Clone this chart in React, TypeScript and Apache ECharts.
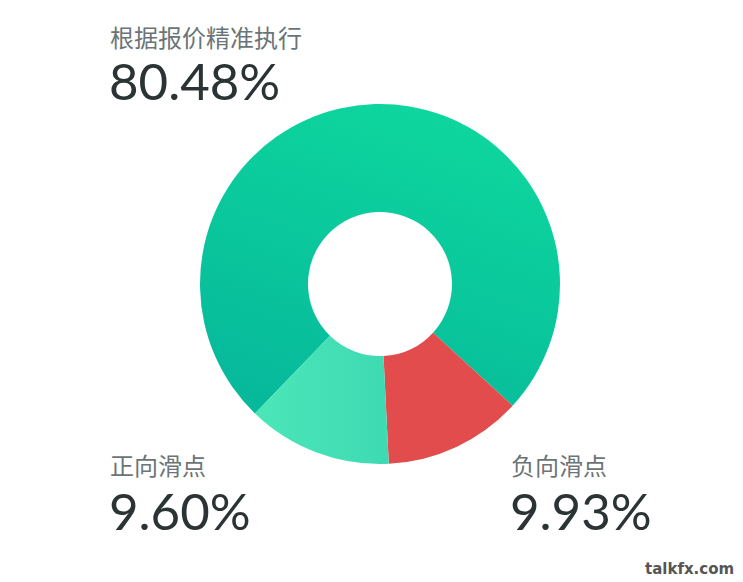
import React, { useEffect, useRef } from "react";
import * as echarts from "echarts";

// Labels shown beside the donut
const categories = ["根据报价精准执行", "负向滑点", "正向滑点"];
const percentLabels = ["80.48%", "9.93%", "9.60%"];
// Slice sizes
const sliceValues = [74.6, 12.4, 13.0];
const watermark = "talkfx.com";

export default function App() {
  const ref = useRef<HTMLDivElement>(null);
  useEffect(() => {
    if (!ref.current) return;
    const chart = echarts.init(ref.current, undefined, { renderer: "svg" });
    const labelFont = '"Noto Sans CJK SC", "Noto Sans", sans-serif';
    const numFont = 'Lato, "Open Sans", sans-serif';
    const labelPos = [
      { x: 110, y: 38, gap: 17 },
      { x: 511, y: 466, gap: 19 },
      { x: 110, y: 466, gap: 19 },
    ];
    const graphics: any[] = [];
    categories.forEach((c, i) => {
      graphics.push({
        type: "text",
        left: labelPos[i].x,
        top: labelPos[i].y - 14,
        style: { text: c, fontSize: 24, fill: "#6b7476", fontFamily: labelFont },
      });
      graphics.push({
        type: "text",
        left: labelPos[i].x - 1,
        top: labelPos[i].y + labelPos[i].gap,
        style: { text: percentLabels[i], fontSize: 51, fill: "#2b3335", fontFamily: numFont },
      });
    });
    graphics.push({
      type: "text",
      left: 645,
      top: 561,
      style: {
        text: watermark,
        fontSize: 15,
        fontWeight: "bold",
        fill: "#555555",
        fontFamily: '"DejaVu Sans", Verdana, sans-serif',
      },
    });
    chart.setOption({
      animation: false,
      backgroundColor: "#ffffff",
      graphic: graphics,
      series: [
        {
          type: "pie",
          center: [380, 284],
          radius: [72, 180],
          startAngle: 226,
          clockwise: true,
          label: { show: false },
          labelLine: { show: false },
          silent: true,
          data: categories.map((c, i) => ({
            name: c,
            value: sliceValues[i],
            itemStyle: {
              color:
                i === 0
                  ? new echarts.graphic.LinearGradient(0.7, 0, 0.3, 1, [
                      { offset: 0, color: "#0ed79d" },
                      { offset: 1, color: "#06b99b" },
                    ])
                  : i === 1
                  ? "#e34c4c"
                  : new echarts.graphic.LinearGradient(0, 0, 1, 0, [
                      { offset: 0, color: "#4be6b8" },
                      { offset: 1, color: "#3edab3" },
                    ]),
            },
          })),
        },
      ],
    });
    return () => chart.dispose();
  }, []);
  return (
    <div
      ref={ref}
      style={{ position: "fixed", left: 0, top: 0, width: 743, height: 582 }}
    />
  );
}
